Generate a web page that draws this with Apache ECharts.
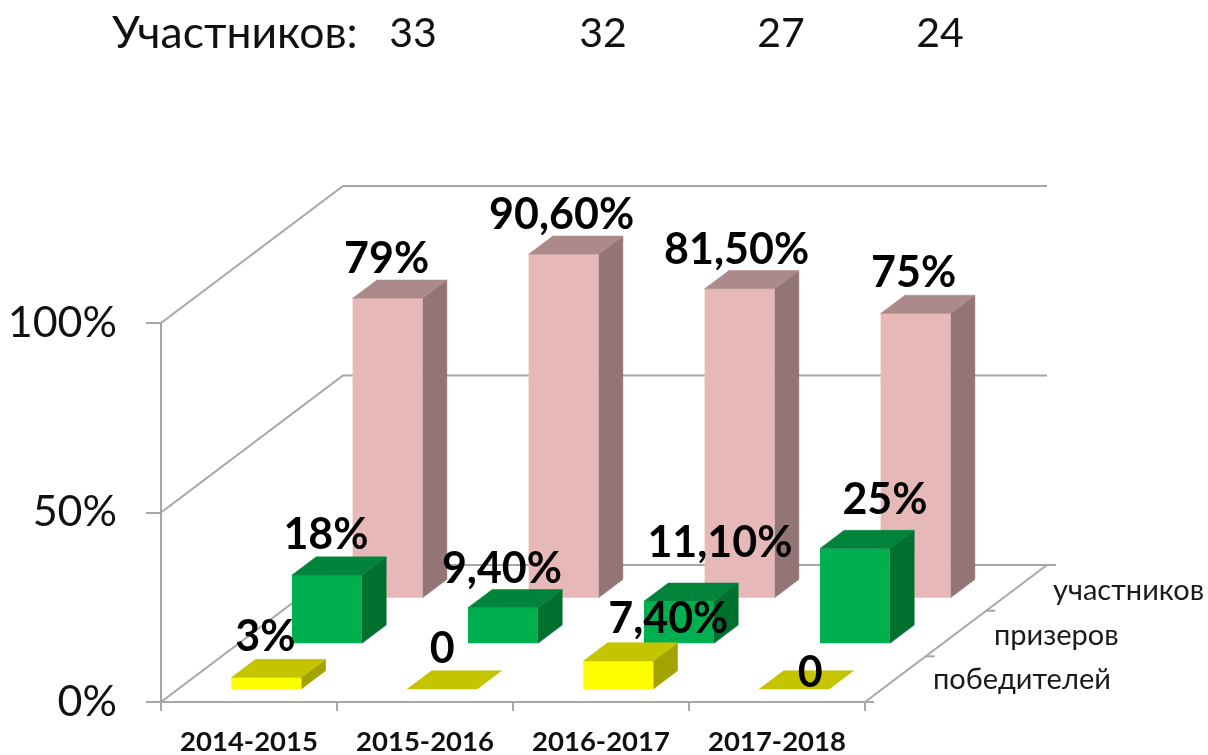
<!DOCTYPE html>
<html><head><meta charset="utf-8">
<style>html,body{margin:0;padding:0;background:#fff}#c{width:1208px;height:755px}</style>
<script src="https://cdn.jsdelivr.net/npm/echarts@6/dist/echarts.min.js"></script>
</head><body><div id="c"></div>
<script>
const years = ['2014-2015','2015-2016','2016-2017','2017-2018'];
const participants = ['33','32','27','24'];
const participantsCaption = 'Участников:';
const rowNames = ['победителей','призеров','участников'];
const winners = [3,0,7.4,0];
const prizeTakers = [18,9.4,11.1,25];
const entrants = [79,90.6,81.5,75];
const winnersText = ['3%','0','7,40%','0'];
const prizeTakersText = ['18%','9,40%','11,10%','25%'];
const entrantsText = ['79%','90,60%','81,50%','75%'];
const yTicks = [0,50,100];

// projection + style settings (oblique 3D)
const DX = 182, DY = -137, ROWS = 3;
const ROW_DX = DX/ROWS, ROW_DY = DY/ROWS;
const BAR_W = 70, FRONT_GAP = 0.285, BAR_DEPTH = 0.4;
const LINE = '#A6A6A6';
const FONT = 'Lato, "Open Sans", sans-serif';
const rowStyles = [
  {front:'#FFFF00', top:'#C4C400', side:'#A3A300'},
  {front:'#00B050', top:'#00843C', side:'#00702F'},
  {front:'#E6B8B7', top:'#AC8A89', side:'#927574'}
];
// label placement relative to the bar's front-left / top corner
const labelOffsets = [
  [[34,-40],[35,-40],[85,-42],[51,-16]],
  [[34,-40],[34,-39],[76,-58],[65,-48]],
  [[34,-39],[33,-39],[32,-39],[33,-40]]
];

function poly(points, fill){
  return {type:'polygon', shape:{points}, style:{fill, stroke:fill, lineWidth:0.5}};
}
function barSeries(name, rowIdx, values, texts){
  return {
    type:'custom', name, coordinateSystem:'cartesian2d', clip:false, z:5,
    data: values.map((v,i)=>[i,v]),
    encode:{x:0,y:1},
    renderItem(params, api){
      const i = api.value(0), v = api.value(1);
      const base = api.coord([i,0]), tip = api.coord([i,v]);
      const t = rowIdx + FRONT_GAP;
      const ox = ROW_DX*t, oy = ROW_DY*t;
      const l = base[0]-BAR_W/2+ox, r = l+BAR_W;
      const b = base[1]+oy, tp = tip[1]+oy;
      const ddx = ROW_DX*BAR_DEPTH, ddy = ROW_DY*BAR_DEPTH;
      const s = rowStyles[rowIdx];
      const children = [];
      if (v>0) {
        children.push(poly([[r,b],[r+ddx,b+ddy],[r+ddx,tp+ddy],[r,tp]], s.side));
        children.push({type:'rect', shape:{x:l,y:tp,width:BAR_W,height:b-tp}, style:{fill:s.front}});
      }
      children.push(poly([[l,tp],[l+ddx,tp+ddy],[r+ddx,tp+ddy],[r,tp]], s.top));
      const off = labelOffsets[rowIdx][i];
      children.push({type:'text', z2:100, style:{
        text:texts[i], x:l+off[0], y:tp+off[1], align:'center', verticalAlign:'middle',
        fill:'#000', font:'bold 43px '+FONT}});
      return {type:'group', children};
    }
  };
}

const wallSeries = {
  type:'custom', name:'walls', coordinateSystem:'cartesian2d', clip:false, z:1, silent:true,
  data: yTicks.map(v=>[0,v]),
  encode:{x:0,y:1},
  renderItem(params, api){
    const v = api.value(1);
    const half = api.size([1,0])[0]/2;
    const p0 = api.coord([0,v]), pN = api.coord([years.length-1,v]);
    const x0 = p0[0]-half, x1 = pN[0]+half, y = p0[1];
    const lineStyle = {stroke:LINE, lineWidth:2, fill:null};
    return {type:'polyline', shape:{points:[[x0,y],[x0+DX,y+DY],[x1+DX,y+DY]]}, style:lineStyle};
  }
};
const depthSeries = {
  type:'custom', name:'depth', coordinateSystem:'cartesian2d', clip:false, z:2, silent:true,
  data:[[years.length-1,0]],
  encode:{x:0,y:1},
  renderItem(params, api){
    const half = api.size([1,0])[0]/2;
    const p = api.coord([years.length-1,0]);
    const x = p[0]+half, y = p[1];
    const children = [{type:'line', shape:{x1:x,y1:y,x2:x+DX,y2:y+DY}, style:{stroke:LINE,lineWidth:2}}];
    for (let k=0;k<=ROWS;k++){
      const tx = x+ROW_DX*k, ty = y+ROW_DY*k;
      children.push({type:'line', shape:{x1:tx,y1:ty,x2:tx+9,y2:ty}, style:{stroke:LINE,lineWidth:2}});
    }
    const anchors = [[68,-22],[129,-66],[188,-111]];
    rowNames.forEach((n,k)=>{
      children.push({type:'text', style:{text:n, x:x+anchors[k][0], y:y+anchors[k][1], align:'left', verticalAlign:'middle',
        fill:'#1a1a1a', font:'29px '+FONT}});
    });
    return {type:'group', children};
  }
};

const chart = echarts.init(document.getElementById('c'), null, {renderer:'canvas'});
const headerX = [413,603,781,940];
chart.setOption({
  animation:false,
  backgroundColor:'#fff',
  grid:{left:161,right:343,top:323,bottom:53,containLabel:false,outerBoundsMode:'none'},
  xAxis:{type:'category',data:years,boundaryGap:true,
    axisLine:{lineStyle:{color:LINE,width:2}},
    axisTick:{show:true,alignWithLabel:false,length:9,lineStyle:{color:LINE,width:2}},
    axisLabel:{color:'#111',fontFamily:FONT,fontWeight:'bold',fontSize:27.5,margin:26,interval:0}},
  yAxis:{type:'value',min:0,max:100,interval:50,
    axisLine:{show:true,lineStyle:{color:LINE,width:2}},
    axisTick:{show:true,length:15,lineStyle:{color:LINE,width:2}},
    splitLine:{show:false},
    axisLabel:{color:'#111',fontFamily:FONT,fontSize:43,margin:44,formatter:'{value}%'}},
  graphic:[
    {type:'text',x:112,y:34,style:{text:participantsCaption,fill:'#111',font:'44.5px '+FONT,verticalAlign:'middle'}},
    ...participants.map((p,i)=>({type:'text',x:headerX[i],y:34,style:{text:p,fill:'#111',font:'41px '+FONT,align:'center',verticalAlign:'middle'}}))
  ],
  series:[
    wallSeries,
    depthSeries,
    barSeries('участников',2,entrants,entrantsText),
    barSeries('призеров',1,prizeTakers,prizeTakersText),
    barSeries('победителей',0,winners,winnersText)
  ]
});
</script></body></html>
